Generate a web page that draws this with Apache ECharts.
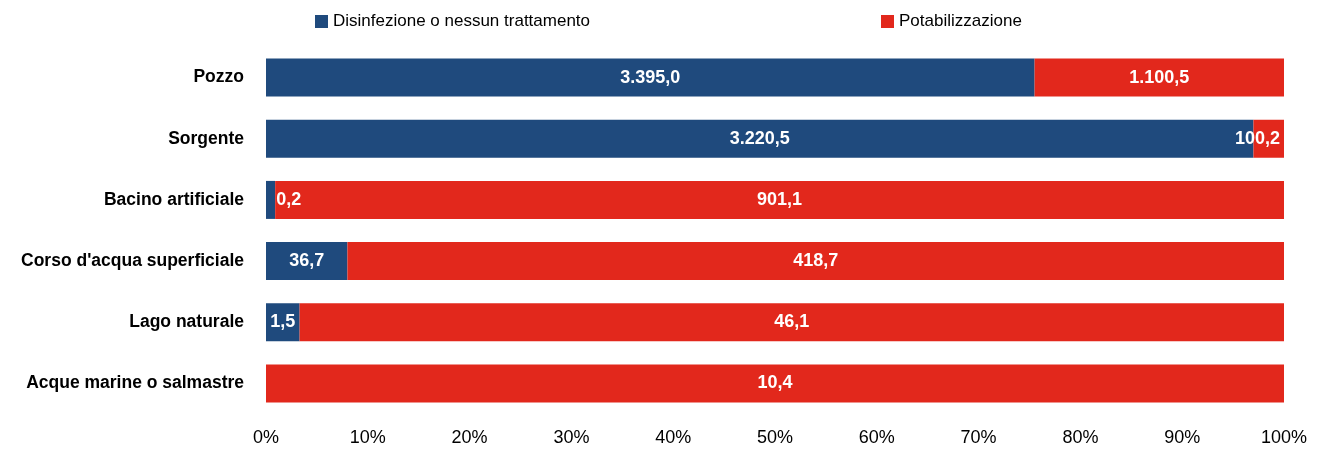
<!DOCTYPE html>
<html>
<head>
<meta charset="utf-8">
<script src="https://cdn.jsdelivr.net/npm/echarts@6/dist/echarts.min.js"></script>
<style>
    html, body { margin: 0; padding: 0; background: #fff; }
    #chart { width: 1320px; height: 457px; }
</style>
</head>
<body>
<div id="chart"></div>
<script>
// categorie (fonte di approvvigionamento)
var categorie = ['Pozzo', 'Sorgente', 'Bacino artificiale', "Corso d'acqua superficiale", 'Lago naturale', 'Acque marine o salmastre'];

// valori assoluti (etichette)
var valoriDisinfezione = [3395.0, 3220.5, 0.2, 36.7, 1.5, null];
var valoriPotabilizzazione = [1100.5, 100.2, 901.1, 418.7, 46.1, 10.4];

var quoteDisinfezione = [75.5, 97.0, 0.9, 8.0, 3.3, 0];
var quotePotabilizzazione = [24.5, 3.0, 99.1, 92.0, 96.7, 100];

var tickPercentuali = [0, 10, 20, 30, 40, 50, 60, 70, 80, 90, 100];

var FONT = '"Liberation Sans", Arial, sans-serif';

function fmt(v) {
    return v.toFixed(1).replace('.', ',').replace(/\B(?=(\d{3})+(?!\d))/g, '.');
}

// costruisce i dati della serie, con la posizione dell'etichetta per i segmenti piccoli
function serie(quote, valori, soglia, piccola) {
    return quote.map(function (q, i) {
        var item = { value: q, valore: valori[i] };
        if (valori[i] != null && q < soglia) {
            item.label = piccola;
        }
        return item;
    });
}

var chart = echarts.init(document.getElementById('chart'));

var labelStyle = {
    show: true,
    color: '#fff',
    fontFamily: FONT,
    fontSize: 18,
    fontWeight: 'bold',
    formatter: function (p) {
        return p.data.valore == null ? '' : fmt(p.data.valore);
    }
};

var legendStyle = {
    top: 8,
    itemWidth: 13,
    itemHeight: 13,
    icon: 'rect',
    textStyle: { fontSize: 17, color: '#000', fontFamily: FONT }
};

var option = {
    animation: false,
    textStyle: { fontFamily: FONT },
    legend: [
        Object.assign({ left: 310, data: ['Disinfezione o nessun trattamento'] }, legendStyle),
        Object.assign({ left: 876, data: ['Potabilizzazione'] }, legendStyle)
    ],
    grid: {
        left: 266,
        right: 36,
        top: 47,
        bottom: 43,
        containLabel: false,
        outerBoundsMode: 'none'
    },
    xAxis: {
        type: 'value',
        min: 0,
        max: 100,
        interval: 10,
        axisLine: { show: false },
        axisTick: { show: false },
        splitLine: { show: false },
        axisLabel: {
            margin: 15,
            color: '#000',
            fontSize: 18,
            fontFamily: FONT,
            formatter: function (v) {
                return tickPercentuali.indexOf(v) >= 0 ? v + '%' : '';
            }
        }
    },
    yAxis: {
        type: 'category',
        inverse: true,
        data: categorie,
        axisLine: { show: false },
        axisTick: { show: false },
        axisLabel: {
            margin: 22,
            color: '#000',
            fontSize: 17.5,
            fontWeight: 'bold',
            fontFamily: FONT
        }
    },
    series: [
        {
            name: 'Disinfezione o nessun trattamento',
            type: 'bar',
            stack: 'tot',
            barWidth: 38,
            itemStyle: { color: '#1F4A7D' },
            label: labelStyle,
            data: serie(quoteDisinfezione, valoriDisinfezione, 2, { position: 'right', distance: 1 })
        },
        {
            name: 'Potabilizzazione',
            type: 'bar',
            stack: 'tot',
            barWidth: 38,
            itemStyle: { color: '#E2281C' },
            label: labelStyle,
            data: serie(quotePotabilizzazione, valoriPotabilizzazione, 5, { position: 'insideRight', distance: 4 })
        }
    ]
};

chart.setOption(option);
</script>
</body>
</html>
